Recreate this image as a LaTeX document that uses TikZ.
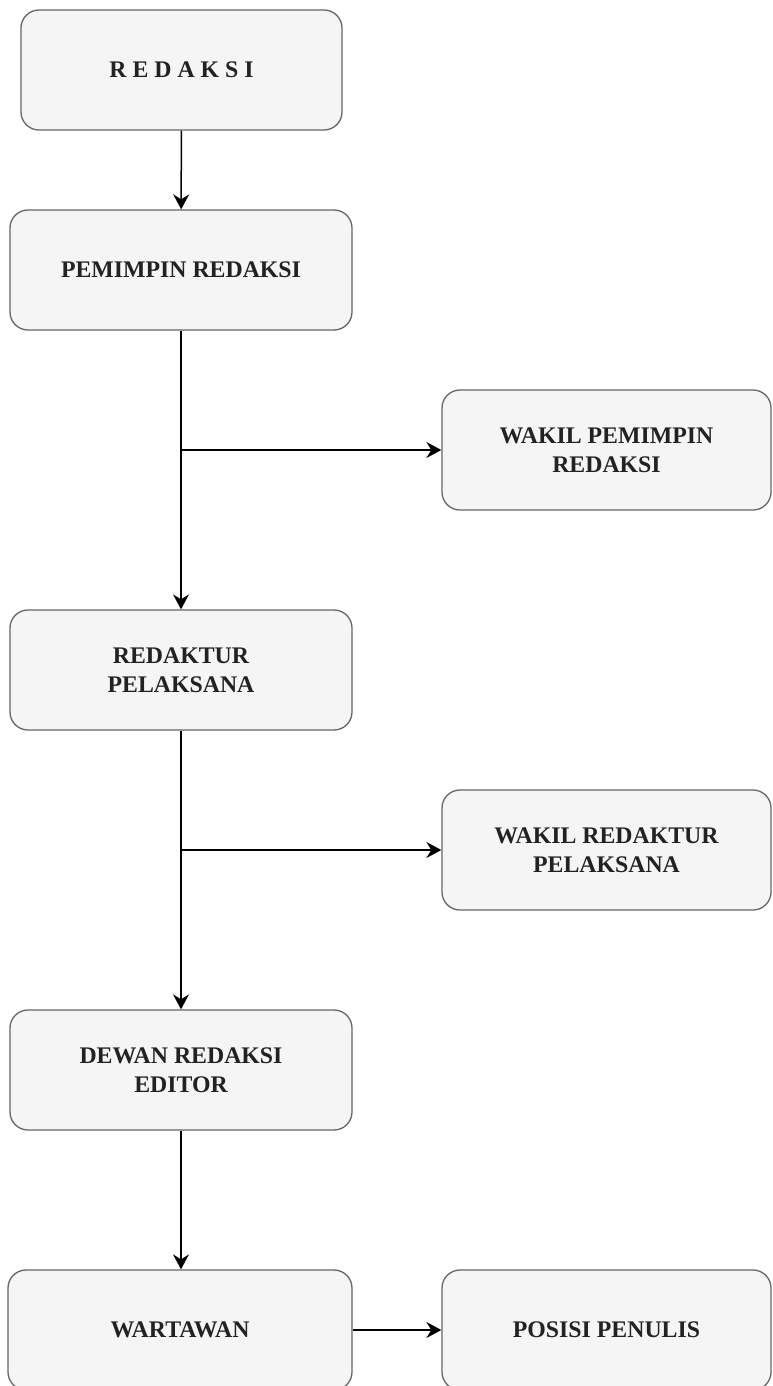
\documentclass[tikz,border=0pt]{standalone}
\usepackage{fontspec}
\setmainfont{Liberation Serif}
\usetikzlibrary{arrows.meta,positioning}

\definecolor{boxfill}{HTML}{F5F5F5}
\definecolor{boxline}{HTML}{666666}
\definecolor{boxtext}{HTML}{222222}

\tikzset{
  unitbox/.style={draw=boxline, fill=boxfill, rounded corners=18pt, line width=1.3pt,
    minimum width=342pt, minimum height=120pt, inner sep=0pt, align=center,
    text=boxtext, font=\fontsize{23.8}{29}\selectfont\bfseries},
  link/.style={line width=1.5pt, -{Stealth[length=15pt,width=16pt,inset=5pt]}}
}

\begin{document}
\begin{tikzpicture}[x=1pt, y=-1pt]
  \useasboundingbox (0,0) rectangle (772,1386);
  \clip (0,0) rectangle (772,1386);
  % left column
  \node[unitbox, minimum width=321pt] (redaksi) at (181.5,70) {R E D A K S I};
  \node[unitbox] (pemimpin) at (181,270) {PEMIMPIN REDAKSI};
  \node[unitbox] (redaktur) at (181,670) {REDAKTUR\\PELAKSANA};
  \node[unitbox] (dewan) at (181,1070) {DEWAN REDAKSI\\EDITOR};
  \node[unitbox, minimum width=344pt] (wartawan) at (180,1330) {WARTAWAN};
  % right column
  \node[unitbox, minimum width=329pt] (wakilpemimpin) at (606.5,450) {WAKIL PEMIMPIN\\REDAKSI};
  \node[unitbox, minimum width=329pt] (wakilredaktur) at (606.5,850) {WAKIL REDAKTUR\\PELAKSANA};
  \node[unitbox, minimum width=329pt] (penulis) at (606.5,1330) {POSISI PENULIS};
  % branch points
  \coordinate (j1) at (pemimpin.south |- wakilpemimpin.west);
  \coordinate (j2) at (redaktur.south |- wakilredaktur.west);
  % connectors
  \draw[link] (redaksi) -- (pemimpin);
  \draw[link] (pemimpin) -- (redaktur);
  \draw[link] (j1) -- (wakilpemimpin);
  \draw[link] (redaktur) -- (dewan);
  \draw[link] (j2) -- (wakilredaktur);
  \draw[link] (dewan.south) -- (dewan.south |- wartawan.north);
  \draw[link] (wartawan) -- (penulis);
\end{tikzpicture}
\end{document}
